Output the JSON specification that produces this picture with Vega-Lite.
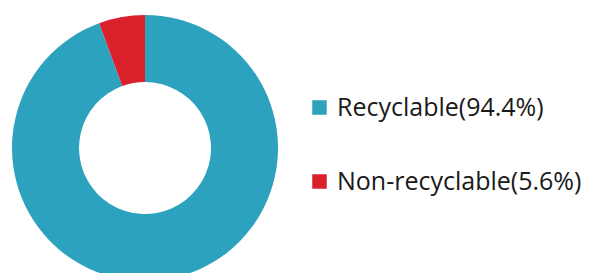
{
  "$schema": "https://vega.github.io/schema/vega-lite/v6.json",
  "width": 290,
  "height": 296,
  "autosize": "none",
  "padding": {"left": 0, "top": 0, "right": 308, "bottom": 0},
  "background": "white",
  "config": {"view": {"stroke": null}},
  "data": {"values": [
    {"category": "Recyclable(94.4%)", "value": 94.4, "order": 1},
    {"category": "Non-recyclable(5.6%)", "value": 5.6, "order": 2}
  ]},
  "mark": {"type": "arc", "outerRadius": 133, "innerRadius": 66},
  "encoding": {
    "theta": {"field": "value", "type": "quantitative", "stack": true},
    "order": {"field": "order"},
    "color": {
      "field": "category",
      "type": "nominal",
      "sort": ["Recyclable(94.4%)", "Non-recyclable(5.6%)"],
      "scale": {"domain": ["Recyclable(94.4%)", "Non-recyclable(5.6%)"], "range": ["#2ca2be", "#d9202b"]},
      "legend": {
        "title": null,
        "orient": "none",
        "legendX": 307,
        "legendY": 95,
        "symbolType": "square",
        "symbolSize": 210,
        "symbolStrokeWidth": 0,
        "labelFont": "Open Sans",
        "labelFontSize": 25,
        "labelColor": "#1a1a1a",
        "labelOffset": 5,
        "rowPadding": 48,
        "labelLimit": 400
      }
    }
  }
}
